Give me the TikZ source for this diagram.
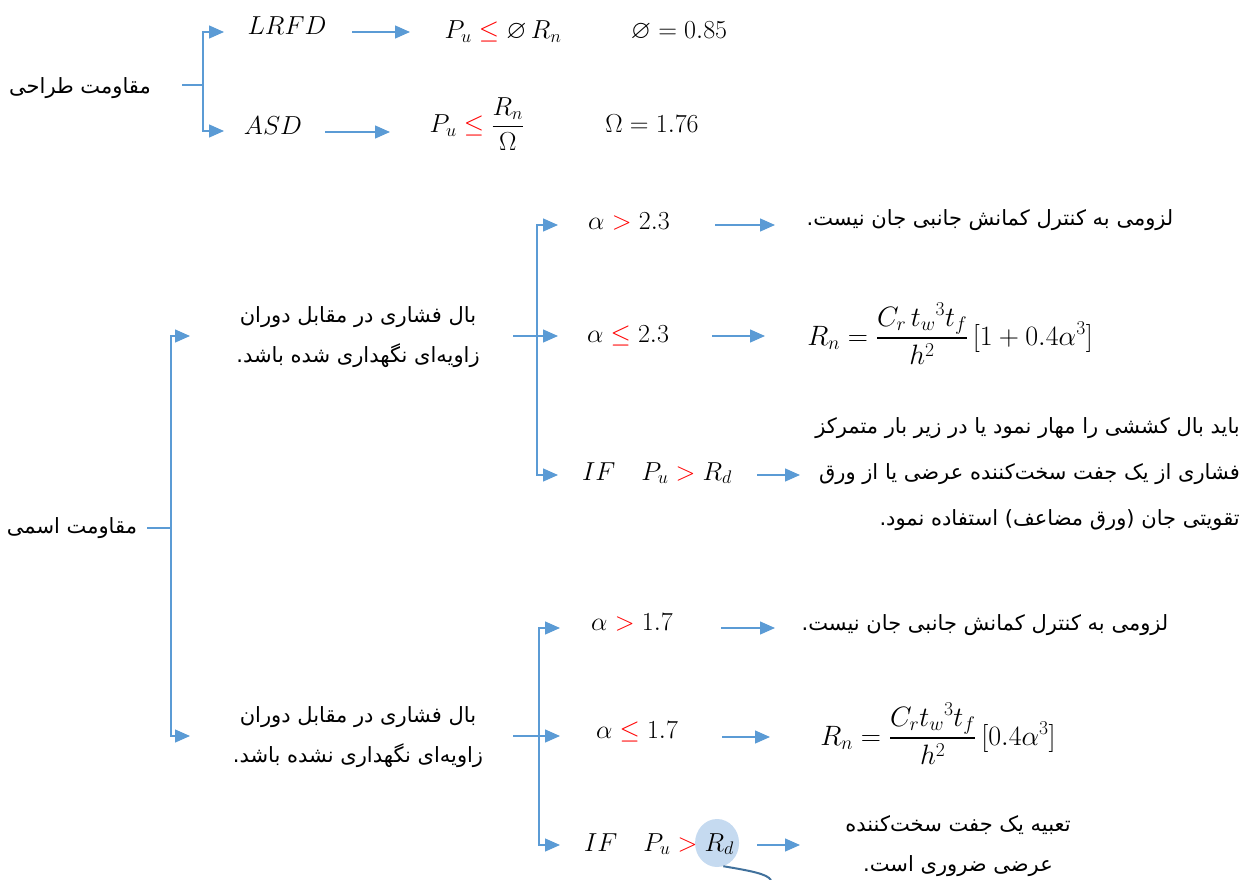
\RequirePackage{fix-cm}
\documentclass[tikz,border=0pt]{standalone}
\usepackage{amsmath}
\usepackage{amssymb}
\usepackage{fontspec}
\usetikzlibrary{arrows.meta,shapes.geometric,backgrounds,calc}
\newfontfamily\fa[Script=Arabic]{DejaVu Sans}
\TeXXeTstate=1
\definecolor{lineblue}{HTML}{5B9BD5}
\definecolor{hlfill}{HTML}{C5DAF0}
\definecolor{curveblue}{HTML}{41719C}
\newcommand{\rr}[1]{\mathrel{\textcolor{red}{#1}}}
\begin{document}
\begin{tikzpicture}[x=1pt,y=-1pt,
  ln/.style={draw=lineblue, line width=1.3pt},
  arr/.style={ln, -{Triangle[length=15pt,width=13pt]}},
  mth/.style={inner sep=0pt, anchor=base, font=\fontsize{26}{31}\selectfont},
  frm/.style={mth, font=\fontsize{28}{33}\selectfont},
  fa/.style={inner sep=0pt, font=\fa\fontsize{21}{40}\selectfont}]
\useasboundingbox (0,0) rectangle (1242,880);

% ---------- design strength ----------
\node[fa] (design) at (80,88) {\beginR مقاومت طراحی\endR};
\node[mth] (lrfd) at (287,35) {$LRFD$};
\node[mth] (asd) at (273,135) {$ASD$};
\node[mth] (lrfdEq) at (503,39) {$P_u \rr{\le} \varnothing\, R_n$};
\node[mth] (phi) at (679,39) {$\varnothing = 0.85$};
\node[mth] (asdEq) at (477,133) {$P_u \rr{\le} \dfrac{R_n}{\Omega}$};
\node[mth] (omega) at (652,133) {$\Omega = 1.76$};

\coordinate (d0) at (182,85); \coordinate (d1) at (203,85);
\coordinate (lrfdIn) at (224,32); \coordinate (asdIn) at (224,131);
\draw[ln] (d0) -- (d1);
\draw[arr] (d1) |- (lrfdIn);
\draw[arr] (d1) |- (asdIn);
\coordinate (la) at (352,32); \coordinate (lb) at (410,32);
\coordinate (aa) at (325,132); \coordinate (ab) at (390,132);
\draw[arr] (la) -- (lb);
\draw[arr] (aa) -- (ab);

% ---------- nominal strength ----------
\node[fa] (nominal) at (72,528) {\beginR مقاومت اسمی\endR};
\node[fa, align=center] (braced) at (358,337)
  {\beginR بال فشاری در مقابل دوران\endR\\ \beginR زاویه‌ای نگهداری شده باشد.\endR};
\node[fa, align=center] (unbraced) at (358,737)
  {\beginR بال فشاری در مقابل دوران\endR\\ \beginR زاویه‌ای نگهداری نشده باشد.\endR};

\coordinate (n0) at (147,528); \coordinate (n1) at (171,528);
\coordinate (bIn) at (190,336); \coordinate (uIn) at (190,736);
\draw[ln] (n0) -- (n1);
\draw[arr] (n1) |- (bIn);
\draw[arr] (n1) |- (uIn);

% upper branch
\node[mth] (a1) at (629,229) {$\alpha \rr{>} 2.3$};
\node[mth] (a2) at (628,342) {$\alpha \rr{\le} 2.3$};
\node[mth] (if1) at (657,480) {$IF\quad P_u \rr{>} R_d$};
\node[fa] (a1t) at (990,220) {\beginR لزومی به کنترل کمانش جانبی جان نیست.\endR};
\node[frm] (f1) at (950,345) {$R_n = \dfrac{C_r\, t_w{}^3 t_f}{h^2}\,[1+0.4\alpha^3]$};
\node[fa, align=right, anchor=east, font=\fa\fontsize{21}{46}\selectfont] (if1t) at (1240,474)
  {\beginR باید بال کششی را مهار نمود یا در زیر بار متمرکز\endR\\
   \beginR فشاری از یک جفت سخت‌کننده عرضی یا از ورق\endR\\
   \beginR تقویتی جان (ورق مضاعف) استفاده نمود.\endR};

\coordinate (m0) at (513,336); \coordinate (m1) at (537,336);
\coordinate (a1In) at (558,225); \coordinate (a2In) at (558,336); \coordinate (if1In) at (558,475);
\draw[ln] (m0) -- (m1);
\draw[arr] (m1) |- (a1In);
\draw[arr] (m1) -- (a2In);
\draw[arr] (m1) |- (if1In);
\coordinate (e1a) at (715,225); \coordinate (e1b) at (775,225);
\coordinate (e2a) at (712,336); \coordinate (e2b) at (765,336);
\coordinate (e3a) at (757,475); \coordinate (e3b) at (800,475);
\draw[arr] (e1a) -- (e1b);
\draw[arr] (e2a) -- (e2b);
\draw[arr] (e3a) -- (e3b);

% lower branch
\node[mth] (b1) at (632,630) {$\alpha \rr{>} 1.7$};
\node[mth] (b2) at (637,738) {$\alpha \rr{\le} 1.7$};
\node[mth] (if2) at (659,851) {$IF\quad P_u \rr{>} R_d$};
\node[fa] (b1t) at (985,625) {\beginR لزومی به کنترل کمانش جانبی جان نیست.\endR};
\node[frm] (f2) at (938,745) {$R_n = \dfrac{C_r t_w{}^3 t_f}{h^2}\,[0.4\alpha^3]$};
\node[fa, align=center] (if2t) at (958,846)
  {\beginR تعبیه یک جفت سخت‌کننده\endR\\ \beginR عرضی ضروری است.\endR};

\coordinate (p0) at (513,736); \coordinate (p1) at (539,736);
\coordinate (b1In) at (560,628); \coordinate (b2In) at (560,736); \coordinate (if2In) at (560,845);
\draw[ln] (p0) -- (p1);
\draw[arr] (p1) |- (b1In);
\draw[arr] (p1) -- (b2In);
\draw[arr] (p1) |- (if2In);
\coordinate (g1a) at (721,628); \coordinate (g1b) at (775,628);
\coordinate (g2a) at (722,737); \coordinate (g2b) at (770,737);
\coordinate (g3a) at (757,845); \coordinate (g3b) at (800,845);
\draw[arr] (g1a) -- (g1b);
\draw[arr] (g2a) -- (g2b);
\draw[arr] (g3a) -- (g3b);

% highlight
\begin{scope}[on background layer]
\node[ellipse, fill=hlfill, inner sep=0pt, minimum width=44pt, minimum height=48pt] (hl)
  at ($(if2.base east)+(-17,-8)$) {};
\end{scope}
\coordinate (cEnd) at (771,880);
\draw[curveblue, line width=2pt] (hl.-75) .. controls (752,871) and (767,874) .. (cEnd);
\end{tikzpicture}
\end{document}
